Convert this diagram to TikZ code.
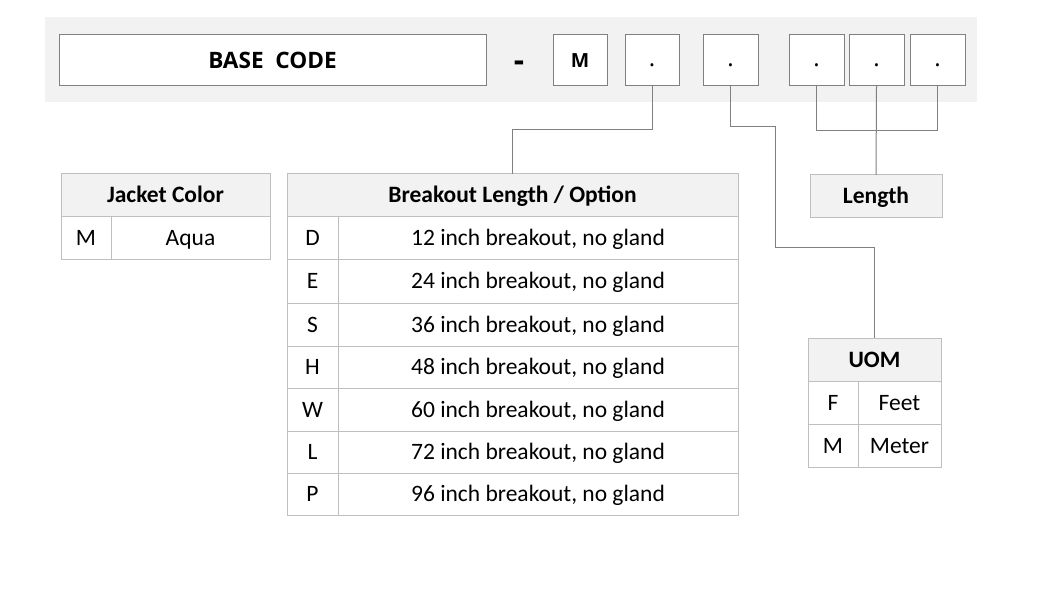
\documentclass[tikz,border=0pt]{standalone}
\usepackage{fontspec}
\setmainfont{Carlito}
\newfontfamily\segoe{Open Sans}
\begin{document}
\begin{tikzpicture}[x=1pt,y=-1pt,
  topbox/.style={draw=black!50, fill=white, line width=1pt, inner sep=0pt, outer sep=0pt, text height=14pt, text depth=0pt},
  dotbox/.style={topbox, font=\segoe\fontsize{24}{24}\selectfont, text height=13pt},
  cell/.style={draw=black!25, line width=1pt, inner sep=0pt, outer sep=0pt, text height=15pt, text depth=0pt, font=\fontsize{23.5}{26}\selectfont},
  hcell/.style={cell, fill=black!5, font=\fontsize{23.5}{26}\selectfont\bfseries},
  conn/.style={draw=black!50, line width=1pt}]
\useasboundingbox (0,0) rectangle (1040,609);
\fill[black!5] (45,17) rectangle (977,102);
% top code boxes
\node[topbox, minimum width=427pt, minimum height=51pt, text height=16pt, font=\segoe\fontsize{22.6}{24}\selectfont\bfseries] (base) at (272.5,60.5) {BASE\ \ CODE};
\node[font=\segoe\fontsize{32}{32}\selectfont\bfseries, inner sep=0pt] (dash) at (519,66) {-};
\node[topbox, minimum width=54pt, minimum height=51pt, font=\segoe\fontsize{19.5}{24}\selectfont\bfseries] (b1) at (580,60.5) {M};
\node[dotbox, minimum width=54pt, minimum height=51pt] (b2) at (652,60.5) {.};
\node[dotbox, minimum width=55pt, minimum height=51pt] (b3) at (730.5,60.5) {.};
\node[dotbox, minimum width=55pt, minimum height=51pt] (b4) at (816.5,60.5) {.};
\node[dotbox, minimum width=55pt, minimum height=51pt] (b5) at (876.5,60.5) {.};
\node[dotbox, minimum width=55pt, minimum height=51pt] (b6) at (937.5,60.5) {.};
% Jacket color
\node[hcell, minimum width=209pt, minimum height=43pt] (jh) at (165.5,195.5) {Jacket Color};
\node[cell, minimum width=50pt, minimum height=43pt] (jm) at (86,238.5) {M};
\node[cell, minimum width=159pt, minimum height=43pt] (ja) at (190.5,238.5) {Aqua};
% Breakout
\node[hcell, minimum width=451pt, minimum height=43pt] (bh) at (512.5,195.5) {Breakout Length / Option};
\node[cell, minimum width=51pt, minimum height=43pt] (kD) at (312.5,238.5) {D};
\node[cell, minimum width=400pt, minimum height=43pt] (vD) at (538,238.5) {12 inch breakout, no gland};
\node[cell, minimum width=51pt, minimum height=43pt] (kE) at (312.5,281.5) {E};
\node[cell, minimum width=400pt, minimum height=43pt] (vE) at (538,281.5) {24 inch breakout, no gland};
\node[cell, minimum width=51pt, minimum height=43pt] (kS) at (312.5,324.5) {S};
\node[cell, minimum width=400pt, minimum height=43pt] (vS) at (538,324.5) {36 inch breakout, no gland};
\node[cell, minimum width=51pt, minimum height=42pt] (kH) at (312.5,367) {H};
\node[cell, minimum width=400pt, minimum height=42pt] (vH) at (538,367) {48 inch breakout, no gland};
\node[cell, minimum width=51pt, minimum height=43pt] (kW) at (312.5,409.5) {W};
\node[cell, minimum width=400pt, minimum height=43pt] (vW) at (538,409.5) {60 inch breakout, no gland};
\node[cell, minimum width=51pt, minimum height=42pt] (kL) at (312.5,452) {L};
\node[cell, minimum width=400pt, minimum height=42pt] (vL) at (538,452) {72 inch breakout, no gland};
\node[cell, minimum width=51pt, minimum height=42pt] (kP) at (312.5,494) {P};
\node[cell, minimum width=400pt, minimum height=42pt] (vP) at (538,494) {96 inch breakout, no gland};
% Length
\node[hcell, minimum width=132pt, minimum height=43pt] (len) at (876,196.5) {Length};
% UOM
\node[hcell, minimum width=133pt, minimum height=43pt] (uh) at (874.5,359.5) {UOM};
\node[cell, minimum width=50pt, minimum height=43pt] (uF) at (833,402.5) {F};
\node[cell, minimum width=83pt, minimum height=43pt] (uFv) at (899.5,402.5) {Feet};
\node[cell, minimum width=50pt, minimum height=43pt] (uM) at (833,445.5) {M};
\node[cell, minimum width=83pt, minimum height=43pt] (uMv) at (899.5,445.5) {Meter};
% connectors
\coordinate (c2) at (652,130);
\coordinate (c3) at (775,248);
\draw[conn] (b2.south) -- (c2) -| (bh.north);
\draw[conn] (b3.south) |- ([yshift=-41pt]b3.south -| c3) -- (c3) -| (uh.north);
\draw[conn] (b4.south) -- ++(0,45) -| (b6.south);
\draw[conn] (b5.south) -- (len.north);
\end{tikzpicture}
\end{document}
